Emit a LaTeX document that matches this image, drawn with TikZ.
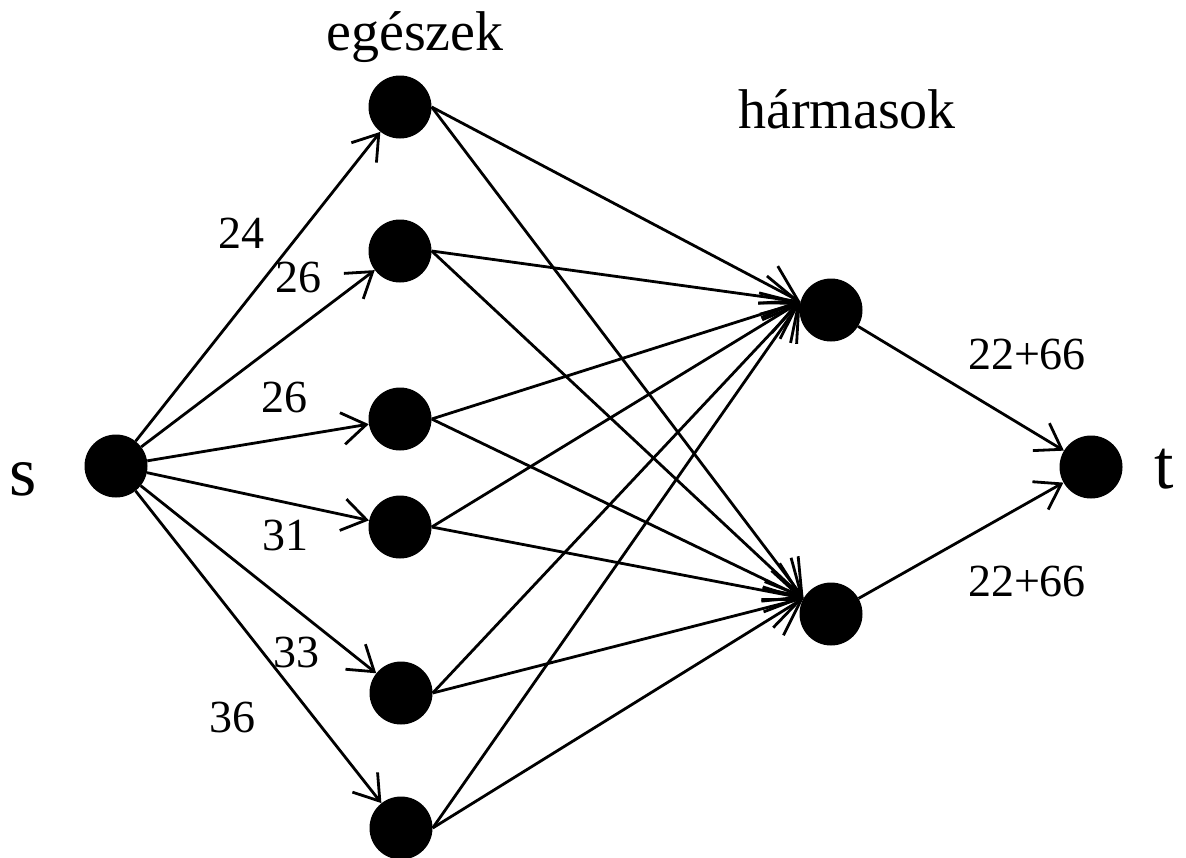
\documentclass[tikz,border=0pt]{standalone}
\usepackage{fontspec}
\setmainfont{Liberation Serif}
\usetikzlibrary{arrows.meta}
\begin{document}
\begin{tikzpicture}[x=1pt,y=-1pt,
  vertex/.style={circle,fill=black,inner sep=0pt,minimum size=63pt},
  edge/.style={line width=2.8pt,-{Straight Barb[length=24pt,width=32pt]}},
  wedge/.style={line width=2.8pt,-{Straight Barb[length=34pt,width=42pt]}},
  lab/.style={inner sep=0pt,font=\fontsize{46}{50}\selectfont},
  head/.style={inner sep=0pt,anchor=base,font=\fontsize{56}{60}\selectfont},
  term/.style={inner sep=0pt,anchor=base,font=\fontsize{70}{74}\selectfont}]
\useasboundingbox (0,0) rectangle (1186,857);

% source, sink and the two layers of vertices
\node[vertex] (s) at (116,466) {};
\node[vertex] (m1) at (400,107) {};
\node[vertex] (m2) at (400,251) {};
\node[vertex] (m3) at (400,419) {};
\node[vertex] (m4) at (400,527) {};
\node[vertex] (m5) at (401,693) {};
\node[vertex] (m6) at (401,828) {};
\node[vertex] (r1) at (831,310) {};
\node[vertex] (r2) at (831,614) {};
\node[vertex] (t) at (1091,467) {};

% captions
\node[term] (sl) at (23,495) {s};
\node[term] (tl) at (1164,488) {t};
\node[head] (eg) at (415,50) {egészek};
\node[head] (ha) at (847,128) {hármasok};

% s to the integers
\foreach \m in {m1,m2,m3,m4,m5,m6}
  \draw[edge] (s) -- (\m);

% integers to the triples, all meeting in one port of each triple
\foreach \m in {m1,m2,m3,m4,m5,m6} {
  \draw[wedge] (\m.east) -- (r1.165);
  \draw[wedge] (\m.east) -- (r2.150);
}

% triples to t
\draw[edge] (r1) -- (t);
\draw[edge] (r2) -- (t);

% capacities
\node[lab] (c1) at (241,233) {24};
\node[lab] (c2) at (298,277) {26};
\node[lab] (c3) at (284,397) {26};
\node[lab] (c4) at (285,535) {31};
\node[lab] (c5) at (296,652) {33};
\node[lab] (c6) at (232,717) {36};
\node[lab] (c7) at (1027,354) {22+66};
\node[lab] (c8) at (1027,581) {22+66};
\end{tikzpicture}
\end{document}
